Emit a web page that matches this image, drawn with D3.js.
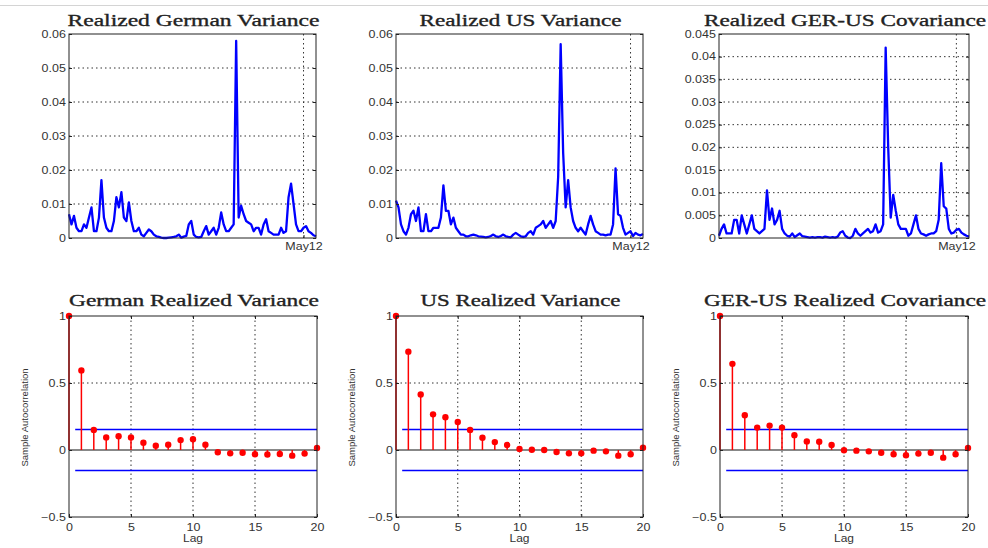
<!DOCTYPE html>
<html>
<head>
<meta charset="utf-8">
<script src="https://cdn.jsdelivr.net/npm/d3@7"></script>
<style>
  body { margin: 0; background: #fff; }
  svg { display: block; }
</style>
</head>
<body>
<div id="main-container"></div>
<script>
// DATA
const gerVar = [0.007,0.004,0.0065,0.003,0.002,0.002,0.004,0.003,0.006,0.009,
  0.002,0.002,0.006,0.017,0.006,0.003,0.002,0.002,0.005,0.012,
  0.009,0.0135,0.006,0.005,0.0105,0.005,0.002,0.002,0.003,0.001,
  0.0005,0.0015,0.0025,0.002,0.001,0.0005,0.0003,0.0001,0.0,0.0,
  0.0001,0.0002,0.0003,0.0005,0.001,0.0001,0.0004,0.0006,0.004,0.005,
  0.001,0.0003,0.0002,0.0003,0.002,0.0035,0.001,0.002,0.003,0.001,
  0.003,0.0075,0.004,0.002,0.002,0.003,0.004,0.058,0.006,0.0095,
  0.007,0.005,0.0045,0.004,0.002,0.003,0.003,0.001,0.004,0.0055,
  0.002,0.0015,0.001,0.001,0.001,0.003,0.0015,0.002,0.012,0.016,
  0.010,0.004,0.002,0.002,0.003,0.0035,0.002,0.0015,0.0008,0.0005];

const usVar = [0.011,0.009,0.004,0.002,0.001,0.003,0.007,0.008,0.005,0.009,
  0.002,0.002,0.007,0.002,0.002,0.003,0.003,0.003,0.006,0.0155,
  0.008,0.008,0.004,0.006,0.003,0.002,0.001,0.001,0.0005,0.0005,
  0.0008,0.001,0.0008,0.0005,0.0004,0.0003,0.0002,0.0003,0.0006,0.001,
  0.0005,0.0003,0.0006,0.001,0.0005,0.0003,0.0002,0.001,0.0015,0.001,
  0.0005,0.0003,0.0005,0.0015,0.002,0.001,0.003,0.0035,0.004,0.005,
  0.003,0.004,0.005,0.003,0.005,0.018,0.057,0.025,0.009,0.017,
  0.009,0.005,0.003,0.002,0.003,0.002,0.001,0.004,0.0065,0.004,
  0.002,0.0015,0.001,0.001,0.0008,0.001,0.001,0.004,0.0205,0.007,
  0.0065,0.003,0.001,0.0015,0.002,0.0006,0.0015,0.001,0.0008,0.0012];

const covVar = [0.0005,0.002,0.003,0.001,0.001,0.001,0.004,0.004,0.001,0.005,
  0.003,0.001,0.003,0.005,0.002,0.0015,0.001,0.0015,0.002,0.0105,
  0.004,0.0065,0.003,0.004,0.006,0.002,0.001,0.0005,0.0003,0.001,
  0.0002,0.0006,0.001,0.0004,0.0003,0.0002,0.0001,0.0002,0.0001,0.0002,
  0.0002,0.0001,0.0003,0.0002,0.0001,0.0002,0.0001,0.0003,0.0012,0.0015,
  0.0005,0.0001,0.0,0.0005,0.002,0.001,0.0005,0.001,0.0015,0.002,
  0.0012,0.0015,0.003,0.0012,0.0015,0.003,0.042,0.02,0.0045,0.0095,
  0.006,0.003,0.002,0.002,0.002,0.0005,0.001,0.003,0.005,0.002,
  0.001,0.0008,0.0005,0.0008,0.001,0.001,0.0015,0.004,0.0165,0.007,
  0.0065,0.002,0.001,0.0012,0.0018,0.002,0.0012,0.0008,0.0005,0.0003];

const acfGer = [1,0.594,0.15,0.094,0.103,0.094,0.054,0.032,0.039,0.074,0.081,
  0.039,-0.017,-0.025,-0.02,-0.032,-0.034,-0.03,-0.042,-0.027,0.015];
const acfUs = [1,0.734,0.414,0.266,0.244,0.209,0.15,0.091,0.059,0.037,0.007,
  0.002,0.0,-0.015,-0.025,-0.025,-0.005,-0.01,-0.042,-0.032,0.017];
const acfCov = [1,0.643,0.259,0.167,0.182,0.167,0.111,0.064,0.062,0.037,-0.002,
  -0.005,-0.01,-0.02,-0.032,-0.039,-0.027,-0.02,-0.057,-0.032,0.015];
const confBound = 0.153;

const varTicks = [0,0.01,0.02,0.03,0.04,0.05,0.06];
const covTicks = [0,0.005,0.01,0.015,0.02,0.025,0.03,0.035,0.04,0.045];
const acfTicks = [-0.5,0,0.5,1];
const lagTicks = [0,5,10,15,20];
const dateTickIndex = 94;
const dateTickLabel = "May12";

const seriesTitles = ["Realized German Variance","Realized US Variance","Realized GER-US Covariance"];
const acfTitles = ["German Realized Variance","US Realized Variance","GER-US Realized Covariance"];

// DRAWING SETUP
const W = 988, H = 548;
const svg = d3.select("#main-container").append("svg")
  .attr("width", W).attr("height", H)
  .style("font-family", "'Liberation Sans', Arial, sans-serif");

svg.append("line")
  .attr("x1", 0).attr("x2", W).attr("y1", 5.5).attr("y2", 5.5)
  .style("stroke", "#d4d4d4").style("stroke-width", 1);

const SX = 1.25; // text in the source image is stretched horizontally

const topPanels = [
  {x0: 69, x1: 316, data: gerVar, ticks: varTicks, max: 0.06, title: seriesTitles[0], tl: 252},
  {x0: 396, x1: 643, data: usVar, ticks: varTicks, max: 0.06, title: seriesTitles[1], tl: 202},
  {x0: 719, x1: 969, data: covVar, ticks: covTicks, max: 0.045, title: seriesTitles[2], tl: 282}
];
const botPanels = [
  {x0: 69, x1: 317, data: acfGer, title: acfTitles[0], tl: 250},
  {x0: 396, x1: 643, data: acfUs, title: acfTitles[1], tl: 200},
  {x0: 720, x1: 968, data: acfCov, title: acfTitles[2], tl: 282}
];
const topY = [34, 238], botY = [316, 517];

function stretchText(g) {
  g.selectAll("text")
    .attr("transform", `scale(${SX},1)`)
    .style("font-size", "10px")
    .style("fill", "#333");
  g.select(".domain").remove();
  g.selectAll(".tick line").style("stroke", "#222");
}

function gridLine(g, x1, y1, x2, y2) {
  g.append("line")
    .attr("x1", x1).attr("y1", y1).attr("x2", x2).attr("y2", y2)
    .style("stroke", "#333").style("stroke-width", 1)
    .style("stroke-dasharray", "1.5,3");
}

function titleText(cx, y, text, tl) {
  svg.append("text")
    .attr("x", cx).attr("y", y)
    .attr("text-anchor", "middle")
    .attr("textLength", tl)
    .attr("lengthAdjust", "spacingAndGlyphs")
    .style("font-family", "'Liberation Serif', 'Times New Roman', serif")
    .style("font-size", "17px")
    .style("fill", "#222")
    .style("stroke", "#222")
    .style("stroke-width", 0.35)
    .text(text);
}

// TOP ROW: realized (co)variance series
topPanels.forEach(p => {
  const x = d3.scaleLinear().domain([0, p.data.length - 1]).range([p.x0, p.x1]);
  const y = d3.scaleLinear().domain([0, p.max]).range([topY[1], topY[0]]);
  const g = svg.append("g");

  p.ticks.slice(1, -1).forEach(t => gridLine(g, p.x0, y(t), p.x1, y(t)));
  gridLine(g, x(dateTickIndex), topY[0], x(dateTickIndex), topY[1]);

  g.append("path")
    .datum(p.data)
    .attr("d", d3.line().x((d, i) => x(i)).y(d => y(d)))
    .style("fill", "none")
    .style("stroke", "#0000ff")
    .style("stroke-width", 2.3)
    .style("stroke-linejoin", "round");

  g.append("rect")
    .attr("x", p.x0).attr("y", topY[0])
    .attr("width", p.x1 - p.x0).attr("height", topY[1] - topY[0])
    .style("fill", "none").style("stroke", "#222").style("stroke-width", 1);

  g.append("g").attr("transform", `translate(${p.x0},0)`)
    .call(d3.axisLeft(y).tickValues(p.ticks).tickSize(-3).tickPadding(2.5)
      .tickFormat(d => d === 0 ? "0" : d3.format("~g")(d)))
    .call(stretchText);
  g.append("g").attr("transform", `translate(${p.x1},0)`)
    .call(d3.axisRight(y).tickValues(p.ticks).tickSize(-3).tickFormat(""))
    .call(stretchText);
  g.append("g").attr("transform", `translate(0,${topY[1]})`)
    .call(d3.axisBottom(x).tickValues([dateTickIndex]).tickSize(-3).tickPadding(5)
      .tickFormat(() => dateTickLabel))
    .call(stretchText);

  titleText((p.x0 + p.x1) / 2 + 1, 26, p.title, p.tl);
});

// BOTTOM ROW: sample autocorrelation
botPanels.forEach(p => {
  const x = d3.scaleLinear().domain([0, 20]).range([p.x0, p.x1]);
  const y = d3.scaleLinear().domain([-0.5, 1]).range([botY[1], botY[0]]);
  const g = svg.append("g");

  lagTicks.slice(1, -1).forEach(t => gridLine(g, x(t), botY[0], x(t), botY[1]));
  gridLine(g, p.x0, y(0.5), p.x1, y(0.5));

  g.append("line")
    .attr("x1", p.x0).attr("x2", p.x1).attr("y1", y(0)).attr("y2", y(0))
    .style("stroke", "#111").style("stroke-width", 1);

  // confidence bounds, drawn a bit thicker so they stay visibly blue
  [confBound, -confBound].forEach(b => {
    g.append("line")
      .attr("x1", x(0.5)).attr("x2", p.x1).attr("y1", y(b)).attr("y2", y(b))
      .style("stroke", "#0000ff").style("stroke-width", 1.7);
  });

  g.selectAll(".stem").data(p.data).enter().append("line")
    .attr("class", "stem")
    .attr("x1", (d, i) => x(i)).attr("x2", (d, i) => x(i))
    .attr("y1", y(0)).attr("y2", d => y(d))
    .style("stroke", "#ff0000").style("stroke-width", 1.5);

  g.selectAll(".dot").data(p.data).enter().append("circle")
    .attr("class", "dot")
    .attr("cx", (d, i) => x(i)).attr("cy", d => y(d))
    .attr("r", 3.2)
    .style("fill", "#ff0000");

  g.append("rect")
    .attr("x", p.x0).attr("y", botY[0])
    .attr("width", p.x1 - p.x0).attr("height", botY[1] - botY[0])
    .style("fill", "none").style("stroke", "#222").style("stroke-width", 1);

  g.append("g").attr("transform", `translate(${p.x0},0)`)
    .call(d3.axisLeft(y).tickValues(acfTicks).tickSize(-3).tickPadding(2.5)
      .tickFormat(d => d3.format("~g")(d)))
    .call(stretchText);
  g.append("g").attr("transform", `translate(${p.x1},0)`)
    .call(d3.axisRight(y).tickValues(acfTicks).tickSize(-3).tickFormat(""))
    .call(stretchText);
  g.append("g").attr("transform", `translate(0,${botY[1]})`)
    .call(d3.axisBottom(x).tickValues(lagTicks).tickSize(-3).tickPadding(7))
    .call(stretchText);
  g.append("g").attr("transform", `translate(0,${botY[0]})`)
    .call(d3.axisTop(x).tickValues(lagTicks).tickSize(-3).tickFormat(""))
    .call(stretchText);

  svg.append("text")
    .attr("transform", `translate(${(p.x0 + p.x1) / 2},542) scale(${SX - 0.05},1)`)
    .attr("text-anchor", "middle")
    .style("font-size", "10px").style("fill", "#333")
    .text("Lag");

  svg.append("text")
    .attr("transform", `translate(${p.x0 - 41},${(botY[0] + botY[1]) / 2 + 1}) rotate(-90)`)
    .attr("text-anchor", "middle")
    .style("font-size", "9.5px").style("fill", "#333")
    .text("Sample Autocorrelation");

  titleText((p.x0 + p.x1) / 2 + 1, 306, p.title, p.tl);
});
</script>
</body>
</html>
